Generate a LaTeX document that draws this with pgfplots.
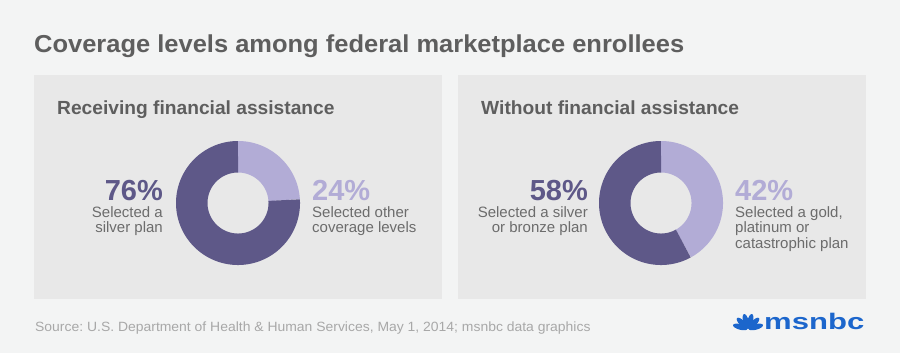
\documentclass[border=0pt]{standalone}
\usepackage{pgfplots}
\pgfplotsset{compat=1.18}
\usepackage{pgfplotstable}
\usepackage{graphicx}
\usepackage{fontspec}
\setmainfont{Liberation Sans}
\frenchspacing
\definecolor{bgc}{HTML}{F3F4F4}
\definecolor{panelc}{HTML}{E8E8E8}
\definecolor{darkp}{HTML}{5E5888}
\definecolor{lightp}{HTML}{B2ACD6}
\definecolor{titlec}{HTML}{5E5E5E}
\definecolor{bodyc}{HTML}{6C6C6C}
\definecolor{srcc}{HTML}{A8A8A8}
\definecolor{logoc}{HTML}{1C66CC}
% shares (percent): light slice first, clockwise from 12 o'clock
\pgfplotstableread{
label share
other 24
silver 76
}\dataA
\pgfplotstableread{
label share
gold 42
silverbronze 58
}\dataB
\pgfplotstablegetelem{0}{share}\of\dataA \let\aLight\pgfplotsretval
\pgfplotstablegetelem{0}{share}\of\dataB \let\bLight\pgfplotsretval
\pgfplotsset{donut/.style={
  width=124bp, height=124bp, scale only axis, hide axis, clip=false,
  xmin=-1, xmax=1, ymin=-1, ymax=1, anchor=center}}
\newcommand{\fs}[2]{\fontsize{#1bp}{#2bp}\selectfont}
\begin{document}
\begin{tikzpicture}[x=1bp,y=-1bp]
\fill[bgc] (0,0) rectangle (900,353);
\fill[panelc] (34,75) rectangle (442,299);
\fill[panelc] (458,75) rectangle (866,299);
\node[anchor=base west, inner sep=0, text=titlec] at (34,52) {\scalebox{1.04}[1]{\fs{24.5}{28}\bfseries Coverage levels among federal marketplace enrollees}};
\node[anchor=base west, inner sep=0, text=titlec] at (57,114) {\scalebox{1.01}[1]{\fs{19}{22}\bfseries Receiving financial assistance}};
\node[anchor=base west, inner sep=0, text=titlec] at (481,114) {\scalebox{1.01}[1]{\fs{19}{22}\bfseries Without financial assistance}};
% donut A
\begin{axis}[donut, at={(238bp,-203bp)}]
\pgfmathsetmacro{\aEnd}{90-3.6*\aLight}
\addplot[lightp, line width=31.5bp, domain=90:\aEnd, samples=90, variable=\t] ({0.746*cos(t)},{0.746*sin(t)});
\addplot[darkp, line width=31.5bp, domain=\aEnd:-270, samples=200, variable=\t] ({0.746*cos(t)},{0.746*sin(t)});
\end{axis}
% donut B
\begin{axis}[donut, at={(661bp,-203bp)}]
\pgfmathsetmacro{\bEnd}{90-3.6*\bLight}
\addplot[lightp, line width=31.5bp, domain=90:\bEnd, samples=120, variable=\t] ({0.746*cos(t)},{0.746*sin(t)});
\addplot[darkp, line width=31.5bp, domain=\bEnd:-270, samples=160, variable=\t] ({0.746*cos(t)},{0.746*sin(t)});
\end{axis}
% labels A
\node[anchor=base east, inner sep=0, text=darkp] at (163,200) {\fs{29}{32}\bfseries 76\%};
\node[anchor=base east, inner sep=0, text=bodyc] at (163,217) {\fs{15}{16}Selected a};
\node[anchor=base east, inner sep=0, text=bodyc] at (163,232.5) {\fs{15}{16}silver plan};
\node[anchor=base west, inner sep=0, text=lightp] at (312,200) {\fs{29}{32}\bfseries 24\%};
\node[anchor=base west, inner sep=0, text=bodyc] at (312,217) {\fs{15}{16}Selected other};
\node[anchor=base west, inner sep=0, text=bodyc] at (312,232.5) {\fs{15}{16}coverage levels};
% labels B
\node[anchor=base east, inner sep=0, text=darkp] at (588,200) {\fs{29}{32}\bfseries 58\%};
\node[anchor=base east, inner sep=0, text=bodyc] at (588,217) {\fs{15}{16}Selected a silver};
\node[anchor=base east, inner sep=0, text=bodyc] at (588,232.5) {\fs{15}{16}or bronze plan};
\node[anchor=base west, inner sep=0, text=lightp] at (735,200) {\fs{29}{32}\bfseries 42\%};
\node[anchor=base west, inner sep=0, text=bodyc] at (735,217) {\fs{15}{16}Selected a gold,};
\node[anchor=base west, inner sep=0, text=bodyc] at (735,232.5) {\fs{15}{16}platinum or};
\node[anchor=base west, inner sep=0, text=bodyc] at (735,248) {\fs{15}{16}catastrophic plan};
% source
\node[anchor=base west, inner sep=0, text=srcc] at (35,331) {\scalebox{1.04}[1]{\fs{13.4}{15}Source: U.S. Department of Health \& Human Services, May 1, 2014; msnbc data graphics}};
% logo
\foreach \a in {15,45,75,105,135,165}{
  \fill[logoc, rotate around={\a:(748,329)}] (756,329) ellipse (7.5bp and 2.8bp);
}
\node[anchor=base west, inner sep=0, text=logoc] at (764,329) {\scalebox{1.38}[1]{\fs{22.5}{26}\bfseries msnbc}};
\end{tikzpicture}
\end{document}
